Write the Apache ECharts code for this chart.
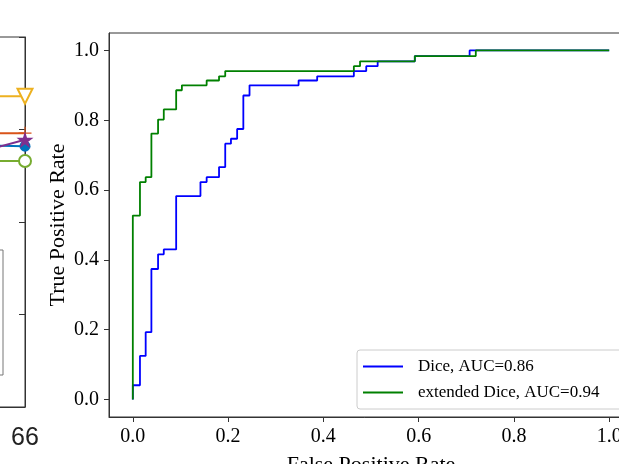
<!DOCTYPE html>
<html>
<head>
<meta charset="utf-8">
<script src="https://cdn.jsdelivr.net/npm/echarts@6/dist/echarts.min.js"></script>
<style>html,body{margin:0;padding:0;background:#fff;}#c{width:619px;height:464px;}</style>
</head>
<body>
<div id="c"></div>
<script>
// ROC chart data (corner points of step curves)
var diceFpr = [0, 0, 0.015, 0.015, 0.027, 0.027, 0.039, 0.039, 0.053, 0.053, 0.065, 0.065, 0.091, 0.091, 0.142, 0.142, 0.155, 0.155, 0.181, 0.181, 0.194, 0.194, 0.206, 0.206, 0.219, 0.219, 0.232, 0.232, 0.245, 0.245, 0.348, 0.348, 0.387, 0.387, 0.464, 0.464, 0.490, 0.490, 0.514, 0.514, 0.592, 0.592, 0.707, 0.707, 1.0];
var diceTpr = [0, 0.041, 0.041, 0.125, 0.125, 0.193, 0.193, 0.374, 0.374, 0.416, 0.416, 0.430, 0.430, 0.583, 0.583, 0.623, 0.623, 0.637, 0.637, 0.666, 0.666, 0.733, 0.733, 0.747, 0.747, 0.775, 0.775, 0.871, 0.871, 0.900, 0.900, 0.914, 0.914, 0.926, 0.926, 0.941, 0.941, 0.955, 0.955, 0.969, 0.969, 0.984, 0.984, 1.0, 1.0];
var extFpr = [0, 0, 0.015, 0.015, 0.027, 0.027, 0.039, 0.039, 0.053, 0.053, 0.065, 0.065, 0.091, 0.091, 0.103, 0.103, 0.155, 0.155, 0.181, 0.181, 0.194, 0.194, 0.464, 0.464, 0.477, 0.477, 0.592, 0.592, 0.720, 0.720, 1.0];
var extTpr = [0, 0.527, 0.527, 0.623, 0.623, 0.637, 0.637, 0.762, 0.762, 0.802, 0.802, 0.831, 0.831, 0.886, 0.886, 0.900, 0.900, 0.914, 0.914, 0.926, 0.926, 0.941, 0.941, 0.955, 0.955, 0.969, 0.969, 0.984, 0.984, 1.0, 1.0];
var rocTicks = [0, 0.2, 0.4, 0.6, 0.8, 1.0];
var rocNames = ['Dice, AUC=0.86', 'extended Dice, AUC=0.94'];

// Left (partially visible) panel data
var leftX = [65, 66];
var leftYellow = [0.836, 0.836];
var leftRed = [0.796, 0.796];
var leftBlue = [0.783, 0.782];
var leftPurple = [0.773, 0.789];
var leftGreen = [0.766, 0.766];

function pairs(xs, ys) { return xs.map(function (x, i) { return [x, ys[i]]; }); }

var serif = 'Liberation Serif';
var starPath = 'path://M0,-1L0.2245,-0.309L0.951,-0.309L0.363,0.118L0.588,0.809L0,0.382L-0.588,0.809L-0.363,0.118L-0.951,-0.309L-0.2245,-0.309Z';
var plusPath = 'path://M-1,-0.09H1V0.09H-1Z M-0.09,-1H0.09V1H-0.09Z';

var chart = echarts.init(document.getElementById('c'), null, {renderer: 'canvas'});
var option = {
  animation: false,
  backgroundColor: '#ffffff',
  grid: [
    {left: 109, top: 33, width: 524, height: 384, outerBoundsMode: 'none', containLabel: false,
      show: true, borderColor: '#333', borderWidth: 1, backgroundColor: 'transparent'},
    {left: -300, top: 37, width: 325, height: 370, outerBoundsMode: 'none', containLabel: false,
      show: true, borderColor: '#333', borderWidth: 1, backgroundColor: 'transparent'}
  ],
  xAxis: [
    {gridIndex: 0, type: 'value', min: -0.05, max: 1.05,
      name: 'False Positive Rate', nameLocation: 'middle', nameGap: 37, nameMoveOverlap: false,
      nameTextStyle: {fontFamily: serif, fontSize: 22, color: '#000'},
      axisLine: {show: true, onZero: false, lineStyle: {color: '#333', width: 1}},
      axisTick: {show: true, customValues: rocTicks, length: 5, lineStyle: {color: '#333'}},
      axisLabel: {show: true, customValues: rocTicks, margin: 10, fontFamily: serif, fontSize: 20, color: '#000',
        formatter: function (v) { return v.toFixed(1); }},
      splitLine: {show: false}},
    {gridIndex: 1, type: 'value', min: 60, max: 66, interval: 1,
      axisLine: {show: true, onZero: false, lineStyle: {color: '#333'}},
      axisTick: {show: true, inside: true, length: 5, lineStyle: {color: '#333'}},
      axisLabel: {show: true, margin: 19, fontFamily: 'Liberation Sans', fontSize: 25, color: '#222'},
      splitLine: {show: false}}
  ],
  yAxis: [
    {gridIndex: 0, type: 'value', min: -0.05, max: 1.05,
      axisLine: {show: true, onZero: false, lineStyle: {color: '#333', width: 1}},
      axisTick: {show: true, customValues: rocTicks, length: 5, lineStyle: {color: '#333'}},
      axisLabel: {show: true, customValues: rocTicks, margin: 10, fontFamily: serif, fontSize: 20, color: '#000',
        formatter: function (v) { return v.toFixed(1); }},
      splitLine: {show: false}},
    {gridIndex: 1, type: 'value', min: 0.5, max: 0.9, interval: 0.1, position: 'left',
      axisLine: {show: true, onZero: false}, axisTick: {show: false}, axisLabel: {show: false}, splitLine: {show: false}},
    {gridIndex: 1, type: 'value', min: 0.5, max: 0.9, interval: 0.1, position: 'right',
      axisLine: {show: true, onZero: false, lineStyle: {color: '#333'}},
      axisTick: {show: true, inside: true, length: 6, lineStyle: {color: '#333'}},
      axisLabel: {show: false}, splitLine: {show: false}},
    {gridIndex: 0, type: 'value', min: -0.05, max: 1.05, position: 'left',
      name: 'True Positive Rate', nameLocation: 'middle', nameGap: 40,
      nameTextStyle: {fontFamily: serif, fontSize: 22, color: '#000'},
      axisLine: {show: false}, axisTick: {show: false}, axisLabel: {show: false}, splitLine: {show: false}}
  ],
  legend: {
    data: rocNames,
    left: 357, top: 350, orient: 'vertical',
    itemWidth: 40, itemHeight: 2, itemGap: 9,
    padding: [8, 60, 8, 6],
    borderColor: '#ccc', borderWidth: 1, borderRadius: 3, backgroundColor: 'rgba(255,255,255,0.8)',
    textStyle: {fontFamily: serif, fontSize: 17, color: '#000', padding: [0, 0, 0, 10]},
    icon: 'rect'
  },
  graphic: [
    {type: 'rect', shape: {x: -10, y: 250, width: 13, height: 125}, style: {fill: '#fff', stroke: '#777', lineWidth: 1}, z: 10}
  ],
  series: [
    {name: rocNames[0], type: 'line', xAxisIndex: 0, yAxisIndex: 0, data: pairs(diceFpr, diceTpr),
      showSymbol: false, symbol: 'none', lineStyle: {color: '#0000ff', width: 1.8}, itemStyle: {color: '#0000ff'}, z: 3},
    {name: rocNames[1], type: 'line', xAxisIndex: 0, yAxisIndex: 0, data: pairs(extFpr, extTpr),
      showSymbol: false, symbol: 'none', lineStyle: {color: '#008000', width: 1.8}, itemStyle: {color: '#008000'}, z: 4},
    {type: 'line', xAxisIndex: 1, yAxisIndex: 1, data: pairs(leftX, leftYellow), symbol: 'triangle', symbolRotate: 180, symbolSize: 15, clip: false,
      lineStyle: {color: '#EDB120', width: 2}, itemStyle: {color: '#fff', borderColor: '#EDB120', borderWidth: 2}},
    {type: 'line', xAxisIndex: 1, yAxisIndex: 1, data: pairs(leftX, leftRed), symbol: plusPath, symbolSize: 13, clip: false,
      lineStyle: {color: '#D95319', width: 2}, itemStyle: {color: '#D95319'}},
    {type: 'line', xAxisIndex: 1, yAxisIndex: 1, data: pairs(leftX, leftBlue), symbol: 'circle', symbolSize: 11, clip: false,
      lineStyle: {color: '#0072BD', width: 2}, itemStyle: {color: '#0072BD'}},
    {type: 'line', xAxisIndex: 1, yAxisIndex: 1, data: pairs(leftX, leftPurple), symbol: starPath, symbolSize: 17, clip: false,
      lineStyle: {color: '#7E2F8E', width: 2}, itemStyle: {color: '#7E2F8E'}},
    {type: 'line', xAxisIndex: 1, yAxisIndex: 1, data: pairs(leftX, leftGreen), symbol: 'emptyCircle', symbolSize: 12, clip: false,
      lineStyle: {color: '#77AC30', width: 2}, itemStyle: {color: '#77AC30', borderColor: '#77AC30', borderWidth: 2}}
  ]
};
chart.setOption(option);
</script>
</body>
</html>
